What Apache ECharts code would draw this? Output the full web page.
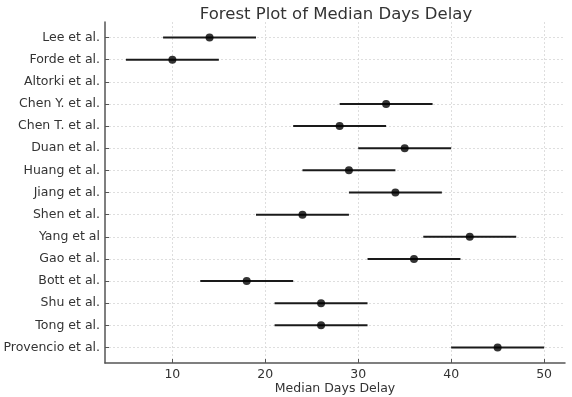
<!DOCTYPE html>
<html>
<head>
<meta charset="utf-8">
<script src="https://cdn.jsdelivr.net/npm/echarts@6/dist/echarts.min.js"></script>
<style>
  html, body { margin: 0; padding: 0; background: #fff; }
  #chart { width: 572px; height: 397px; }
</style>
</head>
<body>
<div id="chart"></div>
<script>
const studies = [
  'Lee et al.', 'Forde et al.', 'Altorki et al.', 'Chen Y. et al.', 'Chen T. et al.',
  'Duan et al.', 'Huang et al.', 'Jiang et al.', 'Shen et al.', 'Yang et al',
  'Gao et al.', 'Bott et al.', 'Shu et al.', 'Tong et al.', 'Provencio et al.',
]
const medians = [14, 10, null, 33, 28, 35, 29, 34, 24, 42, 36, 18, 26, 26, 45]
const lowers = [9, 5, null, 28, 23, 30, 24, 29, 19, 37, 31, 13, 21, 21, 40]
const uppers = [19, 15, null, 38, 33, 40, 34, 39, 29, 47, 41, 23, 31, 31, 50]
const xTicks = [10, 20, 30, 40, 50]

const rowIndex = studies.map((_, i) => i)
const font = 'DejaVu Sans, sans-serif'
const spineColor = '#555'
const gridLine = { show: true, lineStyle: { color: '#d6d6d6', type: [2, 2], width: 0.8 } }

const barData = []
const pointData = []
studies.forEach((name, i) => {
  if (medians[i] == null) return
  barData.push([lowers[i], uppers[i], i])
  pointData.push([medians[i], i])
})

const chart = echarts.init(document.getElementById('chart'))
chart.setOption({
  animation: false,
  title: {
    text: 'Forest Plot of Median Days Delay',
    left: 331,
    top: 1,
    textAlign: 'center',
    textStyle: { fontFamily: font, fontSize: 16.5, fontWeight: 'normal', color: '#333' },
  },
  grid: { left: 105, right: 7, top: 22, bottom: 34, outerBoundsMode: 'none', containLabel: false },
  xAxis: {
    type: 'value',
    min: 2.75,
    max: 52.25,
    name: 'Median Days Delay',
    nameLocation: 'middle',
    nameGap: 19,
    nameMoveOverlap: false,
    nameTextStyle: { fontFamily: font, fontSize: 12.5, color: '#333' },
    axisLine: { show: true, onZero: false, lineStyle: { color: spineColor, width: 1.5 } },
    axisTick: { show: true, inside: true, length: 4, customValues: xTicks, lineStyle: { color: spineColor } },
    axisLabel: { customValues: xTicks, fontFamily: font, fontSize: 12.5, color: '#333', margin: 5 },
    splitLine: gridLine,
  },
  yAxis: {
    type: 'value',
    inverse: true,
    min: -0.7,
    max: 14.7,
    axisLine: { show: true, onZero: false, lineStyle: { color: spineColor, width: 1.5 } },
    axisTick: { show: true, inside: true, length: 4, customValues: rowIndex, lineStyle: { color: spineColor } },
    axisLabel: {
      customValues: rowIndex,
      formatter: (v) => studies[v],
      fontFamily: font,
      fontSize: 12.5,
      color: '#333',
      margin: 5,
    },
    splitLine: gridLine,
  },
  series: [
    {
      type: 'custom',
      data: barData,
      renderItem: (params, api) => {
        const start = api.coord([api.value(0), api.value(2)])
        const end = api.coord([api.value(1), api.value(2)])
        return {
          type: 'line',
          shape: { x1: start[0], y1: start[1], x2: end[0], y2: end[1] },
          style: { stroke: '#1a1a1a', lineWidth: 2 },
        }
      },
      encode: { x: [0, 1], y: 2 },
      z: 2,
    },
    {
      type: 'scatter',
      data: pointData,
      symbolSize: 8,
      itemStyle: { color: '#000' },
      z: 3,
    },
  ],
})
</script>
</body>
</html>
